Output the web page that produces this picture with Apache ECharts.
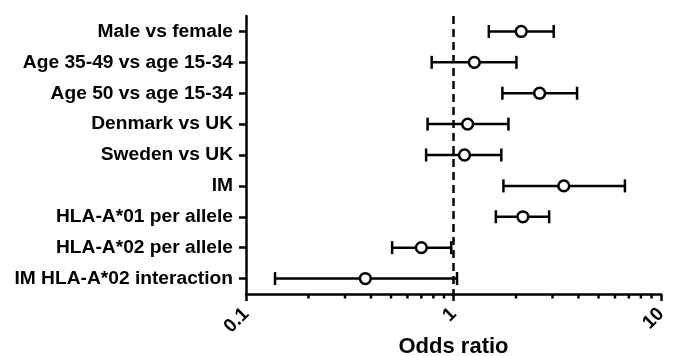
<!DOCTYPE html>
<html>
<head>
<meta charset="utf-8">
<script src="https://cdn.jsdelivr.net/npm/echarts@6/dist/echarts.min.js"></script>
<style>html,body{margin:0;padding:0;background:#fff}#c{width:676px;height:356px}</style>
</head>
<body>
<div id="c"></div>
<script>
var categories = ['Male vs female','Age 35-49 vs age 15-34','Age 50 vs age 15-34','Denmark vs UK','Sweden vs UK','IM','HLA-A*01 per allele','HLA-A*02 per allele','IM HLA-A*02 interaction'];
var oddsRatio = [2.12, 1.26, 2.60, 1.17, 1.13, 3.40, 2.16, 0.70, 0.376];
var ciLow     = [1.48, 0.785, 1.72, 0.75, 0.738, 1.74, 1.60, 0.506, 0.138];
var ciHigh    = [3.04, 2.01, 3.94, 1.84, 1.70, 6.70, 2.89, 0.975, 1.04];
var majorTicks = [0.1, 1, 10];
var tickLabels = ['0.1', '1', '10'];
var minorTicks = [0.2,0.3,0.4,0.5,0.6,0.7,0.8,0.9,2,3,4,5,6,7,8,9];
var refValue = 1;

var FONT = 'Liberation Sans, Arial, sans-serif';
var chart = echarts.init(document.getElementById('c'), null, {renderer:'canvas'});

var forestData = categories.map(function(c, i){ return [ciLow[i], ciHigh[i], oddsRatio[i], i]; });
var LW = 2.5;

chart.setOption({
  animation: false,
  backgroundColor: '#fff',
  grid: {left: 246, right: 15, top: 16, bottom: 62, outerBoundsMode: 'none', containLabel: false},
  xAxis: {
    type: 'log', logBase: 10, min: 0.1, max: 10,
    name: 'Odds ratio', nameLocation: 'middle', nameGap: 42, nameMoveOverlap: false,
    nameTextStyle: {fontFamily: FONT, fontWeight: 'bold', fontSize: 22, color: '#000'},
    axisLine: {show: true, onZero: false, lineStyle: {color: '#000', width: LW}},
    axisTick: {show: true, length: 7, lineStyle: {color: '#000', width: LW}},
    splitLine: {show: false},
    axisLabel: {
      rotate: 45, margin: 17, color: '#000', fontFamily: FONT, fontWeight: 'bold', fontSize: 19,
      formatter: function(v){ var k = majorTicks.indexOf(+(+v).toPrecision(6)); return k >= 0 ? tickLabels[k] : ''; }
    }
  },
  yAxis: {
    type: 'category', data: categories, inverse: true,
    axisLine: {show: true, lineStyle: {color: '#000', width: LW}},
    axisTick: {show: true, length: 7, alignWithLabel: true, lineStyle: {color: '#000', width: LW}},
    axisLabel: {margin: 13, color: '#000', fontFamily: FONT, fontWeight: 'bold', fontSize: 19.2},
    splitLine: {show: false}
  },
  series: [
    {
      type: 'custom',
      data: minorTicks.map(function(v){ return [v]; }),
      clip: false,
      silent: true,
      renderItem: function(params, api){
        var p = api.coord([api.value(0), 0]);
        var bottom = params.coordSys.y + params.coordSys.height;
        return {type: 'line', shape: {x1: p[0], y1: bottom, x2: p[0], y2: bottom + 4.5},
          style: {stroke: '#000', lineWidth: LW}};
      }
    },
    {
      type: 'custom',
      data: [[refValue]],
      clip: false,
      silent: true,
      renderItem: function(params, api){
        var x = api.coord([api.value(0), 0])[0];
        var top = params.coordSys.y, bottom = top + params.coordSys.height;
        return {type: 'line', shape: {x1: x, y1: top, x2: x, y2: bottom},
          style: {stroke: '#000', lineWidth: LW, lineDash: [8, 5]}};
      }
    },
    {
      type: 'custom',
      data: forestData,
      clip: false,
      encode: {x: [0, 1, 2], y: 3},
      renderItem: function(params, api){
        var yi = api.value(3);
        var lo = api.coord([api.value(0), yi]);
        var hi = api.coord([api.value(1), yi]);
        var pt = api.coord([api.value(2), yi]);
        var cap = 6.5;
        var st = {stroke: '#000', lineWidth: LW, fill: null};
        return {type: 'group', children: [
          {type: 'line', shape: {x1: lo[0], y1: lo[1], x2: hi[0], y2: hi[1]}, style: st},
          {type: 'line', shape: {x1: lo[0], y1: lo[1]-cap, x2: lo[0], y2: lo[1]+cap}, style: st},
          {type: 'line', shape: {x1: hi[0], y1: hi[1]-cap, x2: hi[0], y2: hi[1]+cap}, style: st},
          {type: 'circle', shape: {cx: pt[0], cy: pt[1], r: 5.4}, style: {stroke: '#000', lineWidth: LW, fill: '#fff'}}
        ]};
      }
    }
  ]
});
</script>
</body>
</html>
